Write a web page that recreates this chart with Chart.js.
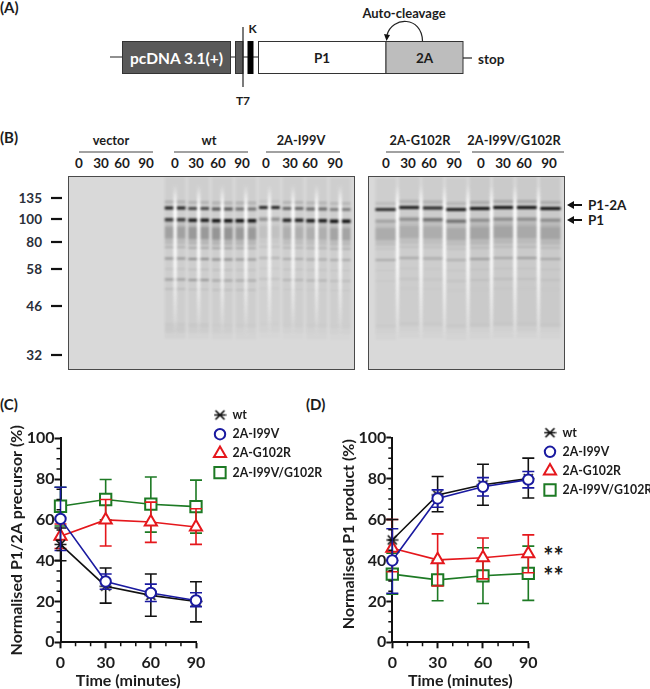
<!DOCTYPE html>
<html>
<head>
<meta charset="utf-8">
<script src="https://cdn.jsdelivr.net/npm/chart.js@4"></script>
<style>
  html, body { margin: 0; padding: 0; background: #fff; }
  #page { position: relative; width: 650px; height: 689px; overflow: hidden; font-family: Lato, sans-serif; }
  #page canvas { position: absolute; }
  #art { position: absolute; left: 0; top: 0; }
  #art text { font-family: Lato, sans-serif; font-weight: 700; fill: #1c1c1c; }
  .gel { position: absolute; top: 176px; height: 194px; background: #d9d9d9; border: 1px solid #4a4a4a; box-sizing: border-box; overflow: hidden; }
  .gel canvas { left: 0; top: 0; filter: blur(0.8px); }
</style>
</head>
<body>
<div id="page">
  <svg id="art" width="650" height="689"></svg>
  <div class="gel" style="left:68px;width:287px"><canvas id="gelLeft" width="285" height="192"></canvas></div>
  <div class="gel" style="left:368px;width:197px"><canvas id="gelRight" width="195" height="192"></canvas></div>
  <canvas id="chartC" width="325" height="299" style="left:0;top:390px"></canvas>
  <canvas id="chartD" width="325" height="299" style="left:325px;top:390px"></canvas>
</div>

<script>
// --- line chart data ---
const timePoints = [0, 30, 60, 90];
const seriesNames = ['wt', '2A-I99V', '2A-G102R', '2A-I99V/G102R'];

// panel C, normalised P1/2A precursor
const precursorWt = [48, 27.5, 23, 20];
const precursorWtHigh = [56, 36.4, 33.5, 29.7];
const precursorWtLow = [40, 19.2, 12.8, 10];
const precursorI99V = [60.5, 29.8, 24.2, 20.5];
const precursorI99VHigh = [76, 33.5, 28.5, 24.3];
const precursorI99VLow = [45, 26, 20, 17.5];
const precursorG102R = [52, 60, 59, 56.5];
const precursorG102RHigh = [58, 70, 68.7, 65.5];
const precursorG102RLow = [46, 47.2, 49, 48];
const precursorDouble = [66.7, 70, 67.7, 66.5];
const precursorDoubleHigh = [76, 79.8, 81, 79.5];
const precursorDoubleLow = [57, 60, 54, 53.5];

// panel D, normalised P1 product
const productWt = [50, 72, 77, 80];
const productWtHigh = [60, 81, 87, 90];
const productWtLow = [40, 63.8, 67, 70.5];
const productI99V = [40, 70.3, 76, 79.5];
const productI99VHigh = [55.5, 74.5, 80.5, 83.5];
const productI99VLow = [24, 66, 71.5, 75.5];
const productG102R = [46, 40.3, 41.3, 43.3];
const productG102RHigh = [60, 53, 51, 52.5];
const productG102RLow = [34.5, 27.5, 31, 34];
const productDouble = [33.3, 30.5, 32.5, 33.7];
const productDoubleHigh = [43.5, 40, 46.2, 47];
const productDoubleLow = [23.5, 20.3, 19, 20.5];

// --- gel data: one intensity per lane, rows are migration distance from the gel top ---
const leftLanes = ['v0', 'v30', 'v60', 'v90', 'wt0', 'wt30', 'wt60', 'wt90', 'i0', 'i30', 'i60', 'i90'];
const rightLanes = ['g0', 'g30', 'g60', 'g90', 'd0', 'd30', 'd60', 'd90'];
const bandRows = [[0, 150], [24, 27], [30, 33], [41.5, 45], [46, 50], [50, 62], [62, 68], [70, 71.5], [81, 83], [92, 93], [102, 104], [112, 113], [146, 150], [150, 156], [156, 162]];

const leftShift = [0, 0, 0, 0, -0.5, 0, 0.5, 0.5, -1, 0, 0.5, 1];
const leftHaze = [0, 0, 0, 0, .05, .05, .05, .05, .04, .05, .05, .05];
const leftFaint = [0, 0, 0, 0, .16, .14, .16, .16, .06, .14, .14, .12];
const leftUpper = [0, 0, 0, 0, .95, .72, .66, .5, .9, .55, .55, .42];
const leftLower = [0, 0, 0, 0, .78, .95, 1, 1, .32, .9, .95, 1];
const leftUnder = [0, 0, 0, 0, .08, .1, .1, .1, .03, .08, .08, .08];
const leftSmear = [0, 0, 0, 0, .24, .28, .3, .27, .08, .16, .17, .22];
const leftTail = [0, 0, 0, 0, .1, .12, .13, .12, .04, .08, .08, .1];
const leftB70 = [0, 0, 0, 0, .2, .26, .28, .24, .1, .16, .18, .2];
const leftB81 = [0, 0, 0, 0, .32, .36, .36, .3, .16, .2, .2, .2];
const leftB92 = [0, 0, 0, 0, .12, .14, .14, .12, .06, .1, .1, .08];
const leftB102 = [0, 0, 0, 0, .28, .3, .22, .2, .08, .14, .14, .1];
const leftB112 = [0, 0, 0, 0, .18, .1, .14, .14, .05, .06, .06, .06];
const leftLowTop = [0, 0, 0, 0, .03, .03, .02, .02, .01, .01, .02, .01];
const leftLowMid = [0, 0, 0, 0, .07, .06, .05, .04, .03, .03, .04, .03];
const leftLowEnd = [0, 0, 0, 0, .03, .02, .02, .02, .01, .01, .02, .01];

const rightShift = [1, -1, -0.5, 1, 0, -1, -1, 0];
const rightHaze = [.05, .06, .06, .06, .07, .07, .07, .07];
const rightFaint = [.1, .13, .15, .12, .16, .18, .18, .16];
const rightUpper = [.85, .95, .9, .95, 1, 1, 1, 1];
const rightLower = [.22, .32, .48, .48, .32, .32, .32, .32];
const rightUnder = [.08, .08, .08, .08, .1, .1, .1, .1];
const rightSmear = [.18, .17, .17, .18, .2, .2, .18, .2];
const rightTail = [.08, .07, .07, .08, .09, .09, .08, .09];
const rightB70 = [.08, .09, .09, .09, .12, .12, .14, .12];
const rightB81 = [.2, .2, .2, .16, .26, .2, .26, .2];
const rightB92 = [.06, .06, .06, .06, .08, .08, .08, .08];
const rightB102 = [.03, .05, .05, .05, .06, .08, .06, .05];
const rightB112 = [.02, .03, .03, .03, .03, .05, .04, .03];
const rightLowTop = [.02, .02, .02, .02, .02, .02, .02, .02];
const rightLowMid = [.04, .04, .04, .04, .04, .04, .05, .04];
const rightLowEnd = [.02, .02, .02, .02, .02, .02, .02, .02];

// --- labels round the gel ---
const ladderLabels = ['135', '100', '80', '58', '46', '32'];
const gelTimes = ['0', '30', '60', '90'];

const seriesColors = ['#111111', '#1a1aa0', '#e5171c', '#1d7a24'];
const fontBold = 'Lato, sans-serif';

// wt marker: an X with a bar through it, not one of the stock point styles
function wtMarker() {
  const c = document.createElement('canvas');
  c.width = 13; c.height = 13;
  const g = c.getContext('2d');
  g.strokeStyle = seriesColors[0];
  g.lineWidth = 1.7;
  g.beginPath();
  g.moveTo(2, 2); g.lineTo(11, 11);
  g.moveTo(11, 2); g.lineTo(2, 11);
  g.moveTo(0.5, 6.5); g.lineTo(12.5, 6.5);
  g.stroke();
  return c;
}
const wtPoint = wtMarker();

function makeSeries(i, values, high, low, style, radius, order) {
  return {
    label: seriesNames[i],
    data: timePoints.map((t, k) => ({ x: t, y: values[k] })),
    high, low, order,
    borderColor: seriesColors[i],
    backgroundColor: '#fff',
    borderWidth: 1.6,
    pointStyle: style,
    pointRadius: radius,
    pointBorderWidth: 2,
    pointBackgroundColor: '#fff',
    pointBorderColor: seriesColors[i],
    clip: false
  };
}

// error bars go in just before their own dataset so the stacking follows the series order
const errorBars = {
  id: 'errorBars',
  beforeDatasetDraw(chart, args) {
    const ds = chart.data.datasets[args.index];
    const { x, y } = chart.scales;
    const ctx = chart.ctx;
    ctx.save();
    ctx.strokeStyle = ds.borderColor;
    ctx.lineWidth = 1.6;
    timePoints.forEach((t, k) => {
      const px = x.getPixelForValue(t);
      const hi = y.getPixelForValue(ds.high[k]);
      const lo = y.getPixelForValue(ds.low[k]);
      ctx.beginPath();
      ctx.moveTo(px, hi); ctx.lineTo(px, lo);
      ctx.moveTo(px - 6, hi); ctx.lineTo(px + 6, hi);
      ctx.moveTo(px - 6, lo); ctx.lineTo(px + 6, lo);
      ctx.stroke();
    });
    ctx.restore();
  }
};

const minorTicks = {
  id: 'minorTicks',
  afterDraw(chart) {
    const { x, y } = chart.scales;
    const ctx = chart.ctx;
    ctx.save();
    ctx.strokeStyle = '#111';
    ctx.lineWidth = 1.5;
    ctx.beginPath();
    for (let v = 10; v < 90; v += 10) {
      if (v % 30 === 0) continue;
      const px = x.getPixelForValue(v);
      ctx.moveTo(px, y.bottom); ctx.lineTo(px, y.bottom + 4);
    }
    for (let v = 5; v < 100; v += 5) {
      if (v % 20 === 0) continue;
      const py = y.getPixelForValue(v);
      ctx.moveTo(x.left, py); ctx.lineTo(x.left - 4, py);
    }
    ctx.stroke();
    ctx.restore();
  }
};

const sideLegend = {
  id: 'sideLegend',
  afterDraw(chart, args, opts) {
    const ctx = chart.ctx;
    ctx.save();
    ctx.font = '700 12.3px ' + fontBold;
    ctx.textBaseline = 'middle';
    chart.data.datasets.forEach((ds, i) => {
      const y = opts.top + i * opts.step;
      ctx.strokeStyle = ds.pointBorderColor;
      ctx.fillStyle = '#fff';
      ctx.lineWidth = ds.pointBorderWidth;
      Chart.helpers.drawPoint(ctx, { pointStyle: ds.pointStyle, radius: ds.pointRadius, borderWidth: ds.pointBorderWidth, rotation: 0 }, opts.marker, y);
      ctx.fillStyle = '#1c1c1c';
      ctx.fillText(ds.label, opts.text, y);
    });
    ctx.restore();
  }
};

function lineChart(id, yTitle, datasets, leftPad, topPad, rightPad, titleGap, legend) {
  return new Chart(document.getElementById(id), {
    type: 'line',
    data: { datasets },
    plugins: [errorBars, minorTicks, sideLegend],
    options: {
      responsive: false,
      animation: false,
      layout: { padding: { left: 0, top: topPad, right: rightPad, bottom: 0 } },
      plugins: { legend: { display: false }, tooltip: { enabled: false }, sideLegend: legend },
      scales: {
        x: {
          type: 'linear', min: 0, max: 90,
          afterFit: s => { s.height = 299 - 252.3; },
          ticks: { stepSize: 30, color: '#1c1c1c', padding: 5, maxRotation: 0, font: { family: fontBold, weight: '700', size: 16 } },
          grid: { drawOnChartArea: false, tickLength: 6, tickColor: '#111', tickWidth: 2 },
          border: { color: '#111', width: 2 },
          title: { display: true, text: 'Time (minutes)', color: '#1c1c1c', padding: { top: 0, bottom: 0 }, font: { family: fontBold, weight: '700', size: 16, lineHeight: 1.05 } }
        },
        y: {
          min: 0, max: 100,
          afterFit: s => { s.width = leftPad; },
          ticks: { stepSize: 20, color: '#1c1c1c', padding: 0, font: { family: fontBold, weight: '700', size: 16 } },
          grid: { drawOnChartArea: false, tickLength: 6, tickColor: '#111', tickWidth: 2 },
          border: { color: '#111', width: 2 },
          title: { display: true, text: yTitle, color: '#1c1c1c', padding: { top: titleGap, bottom: 0 }, font: { family: fontBold, weight: '700', size: 16 } }
        }
      }
    }
  });
}

lineChart('chartC', 'Normalised P1/2A precursor (%)', [
  makeSeries(0, precursorWt, precursorWtHigh, precursorWtLow, wtPoint, 7, 1),
  makeSeries(1, precursorI99V, precursorI99VHigh, precursorI99VLow, 'circle', 5.2, 0),
  makeSeries(2, precursorG102R, precursorG102RHigh, precursorG102RLow, 'triangle', 7, 2),
  makeSeries(3, precursorDouble, precursorDoubleHigh, precursorDoubleLow, 'rect', 8, 3)
], 60.5, 48.3, 129, 7, { marker: 220, text: 232.5, top: 25, step: 19.2 });

lineChart('chartD', '\u00a0\u00a0\u00a0Normalised P1 product (%)', [
  makeSeries(0, productWt, productWtHigh, productWtLow, wtPoint, 7, 1),
  makeSeries(1, productI99V, productI99VHigh, productI99VLow, 'circle', 5.2, 0),
  makeSeries(2, productG102R, productG102RHigh, productG102RLow, 'triangle', 7, 2),
  makeSeries(3, productDouble, productDoubleHigh, productDoubleLow, 'rect', 8, 3)
], 67.3, 47.7, 121.7, 14, { marker: 225, text: 237.5, top: 42.7, step: 19.1 });

// --- gels: floating bars on a lane axis ---
const laneStreaks = {
  id: 'laneStreaks',
  afterDatasetsDraw(chart, args, opts) {
    const { x, y } = chart.scales;
    const ctx = chart.ctx;
    const top = y.getPixelForValue(opts.from);
    const bottom = y.getPixelForValue(opts.to);
    const fade = ctx.createLinearGradient(0, top, 0, bottom);
    fade.addColorStop(0, 'rgba(255,255,255,0)');
    fade.addColorStop(0.15, 'rgba(255,255,255,1)');
    fade.addColorStop(0.55, 'rgba(255,255,255,0.8)');
    fade.addColorStop(1, 'rgba(255,255,255,0)');
    ctx.save();
    ctx.fillStyle = fade;
    opts.gaps.forEach(g => {
      const px = x.getPixelForValue(g) + x.width / x.ticks.length / 2;
      ctx.fillRect(px - 1.7, top, 3.4, bottom - top);
    });
    ctx.restore();
  }
};

function gelChart(id, lanes, rows, shift, pad, gaps) {
  return new Chart(document.getElementById(id), {
    type: 'bar',
    data: {
      labels: lanes,
      datasets: rows.map((levels, r) => ({
        data: levels.map((_, k) => [bandRows[r][0] + shift[k], bandRows[r][1] + shift[k]]),
        backgroundColor: levels.map(a => 'rgba(15,15,15,' + a + ')'),
        grouped: false,
        barPercentage: 0.88,
        categoryPercentage: 1
      }))
    },
    plugins: [laneStreaks],
    options: {
      responsive: false,
      animation: false,
      layout: { padding: pad },
      plugins: { legend: { display: false }, tooltip: { enabled: false }, laneStreaks: { gaps, from: 8, to: 160 } },
      scales: {
        x: { display: false },
        y: { display: false, reverse: true, min: 0, max: 192 }
      }
    }
  });
}

gelChart('gelLeft', leftLanes,
  [leftHaze, leftFaint, leftUpper, leftLower, leftUnder, leftSmear, leftTail, leftB70, leftB81, leftB92, leftB102, leftB112, leftLowTop, leftLowMid, leftLowEnd],
  leftShift, { left: 0, right: 2, top: 0, bottom: 0 }, [3, 4, 5, 6, 7, 8, 9, 10]);
gelChart('gelRight', rightLanes,
  [rightHaze, rightFaint, rightUpper, rightLower, rightUnder, rightSmear, rightTail, rightB70, rightB81, rightB92, rightB102, rightB112, rightLowTop, rightLowMid, rightLowEnd],
  rightShift, { left: 5, right: 2, top: 0, bottom: 0 }, [0, 1, 2, 3, 4, 5, 6]);

// --- schematic and gel labels ---
const art = document.getElementById('art');
function el(name, attrs, text) {
  const n = document.createElementNS('http://www.w3.org/2000/svg', name);
  Object.keys(attrs).forEach(k => n.setAttribute(k, attrs[k]));
  if (text) n.textContent = text;
  art.appendChild(n);
  return n;
}
function label(str, x, y, size, anchor, fill) {
  const t = el('text', { x, y, 'font-size': size, 'text-anchor': anchor || 'middle', 'dominant-baseline': 'central' }, str);
  if (fill) t.style.fill = fill;
}
function line(x1, y1, x2, y2, w, color) {
  el('line', { x1, y1, x2, y2, stroke: color || '#222', 'stroke-width': w || 1 });
}
function box(x, y, w, h, fill, stroke) {
  el('rect', { x, y, width: w, height: h, fill, stroke: stroke || '#333', 'stroke-width': 1 });
}

label('(A)', 0, 7, 15, 'start');
label('(B)', 0, 137, 15, 'start');
label('(C)', 0, 404, 15, 'start');
label('(D)', 306, 404, 15, 'start');

// panel A
line(110, 57, 258, 57, 1.2);
box(122.5, 41.5, 108, 32, '#595959');
box(235.5, 41.5, 7.5, 32, '#595959');
box(248, 41.5, 5, 32, '#000', '#000');
line(243, 27, 243, 87, 1.2);
box(258.5, 41.5, 127.5, 32, '#fff');
box(386, 41.5, 77, 32, '#bdbdbd');
line(463, 58, 472, 58, 1.2);
el('path', { d: 'M422.5 41 C422 16 392 16 387 35', fill: 'none', stroke: '#222', 'stroke-width': 1.2 });
el('path', { d: 'M386.5 41 L384 34 L390 35 Z', fill: '#111' });
label('pcDNA 3.1(+)', 176.5, 57.5, 15.5, 'middle', '#fff');
label('P1', 322, 58, 13.5);
label('2A', 424.5, 58, 13.5);
label('stop', 478, 59, 13.5, 'start');
label('K', 252.5, 28, 12);
label('T7', 243, 100, 12);
label('Auto-cleavage', 404, 12.5, 13);

// panel B headers
function gelHeader(name, cx, x1, x2, tickXs) {
  label(name, cx, 139.5, 12.8);
  line(x1, 152, x2, 152, 1.2, '#444');
  gelTimes.forEach((t, i) => label(t, tickXs[i], 163, 13.5));
}
gelHeader('vector', 111, 79, 153, [79, 101, 122, 146]);
gelHeader('wt', 209, 174, 248, [175, 196, 218, 242]);
gelHeader('2A-I99V', 301, 266, 340, [266, 290, 310, 335]);
gelHeader('2A-G102R', 420, 386, 460, [386, 408, 429, 454]);
gelHeader('2A-I99V/G102R', 514, 472, 564, [481, 503, 524, 549]);

const ladderYs = [198, 219, 242, 269, 306, 355];
ladderLabels.forEach((t, i) => {
  label(t, 42, ladderYs[i], 13.5, 'end', '#2a2f3a');
  line(51, ladderYs[i], 62, ladderYs[i], 2.2, '#111');
});

function arrow(y, name) {
  line(572, y, 582, y, 2, '#111');
  el('path', { d: 'M567 ' + y + ' L574 ' + (y - 4) + ' L574 ' + (y + 4) + ' Z', fill: '#111' });
  label(name, 588, y, 13.5, 'start');
}
arrow(205, 'P1-2A');
arrow(220, 'P1');

// significance marks on panel D
label('**', 553.5, 555, 24);
label('**', 553.5, 575, 24);
</script>
</body>
</html>
